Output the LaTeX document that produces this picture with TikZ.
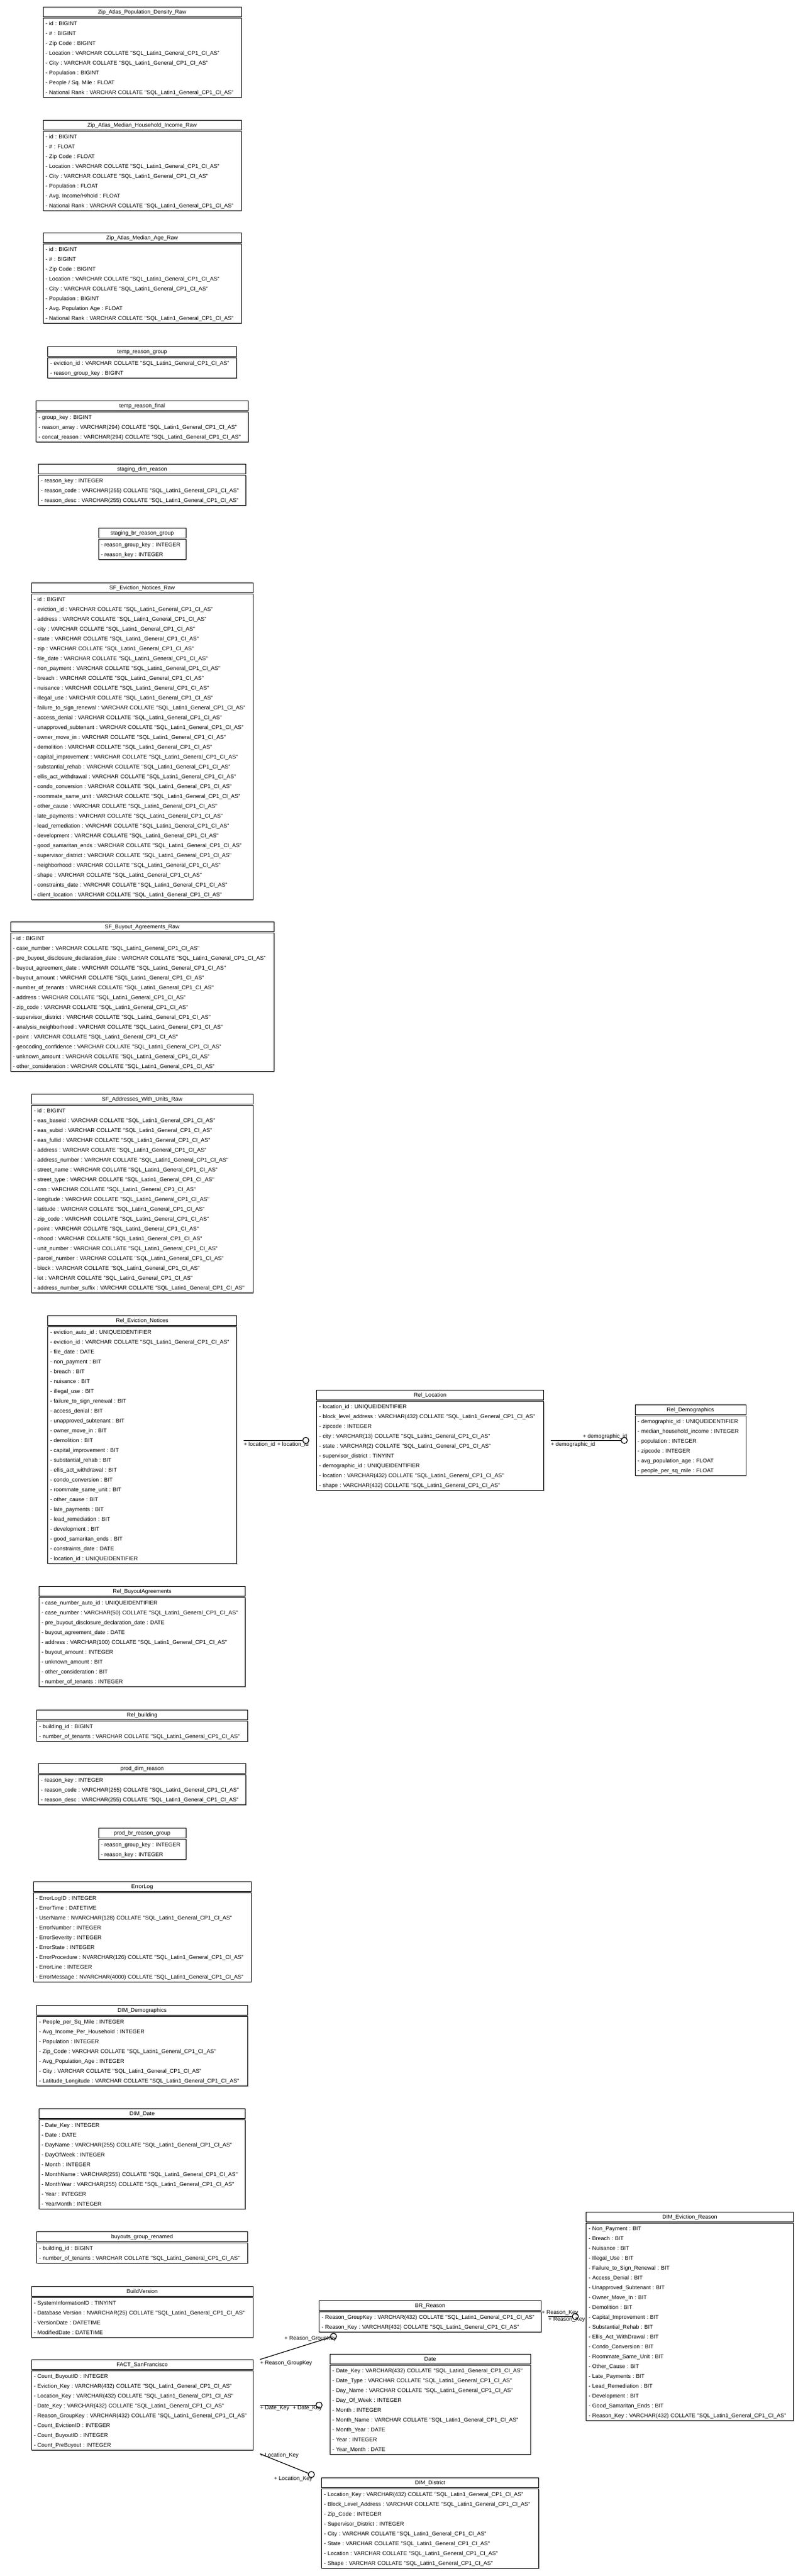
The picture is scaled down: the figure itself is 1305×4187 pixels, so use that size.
\documentclass[tikz,border=0pt]{standalone}
\usepackage{fontspec}
\newfontfamily\erfont{Liberation Sans}
\usepackage{tikz}
\usetikzlibrary{positioning,calc,shadows}
\newcommand{\tabfont}{\erfont\fontsize{4.5pt}{8pt}\selectfont\frenchspacing}
\newcommand{\sqlcoll}{COLLATE "SQL\_Latin1\_General\_CP1\_CI\_AS"}

\begin{document}
\begin{tikzpicture}[x=0.5pt,y=-0.5pt]
  % Define styles
  \tikzstyle{tabhead} = [draw, line width=0.5pt, fill=white, inner sep=0pt, minimum height=8pt, anchor=north, font=\tabfont, execute at begin node=\strut]
  \tikzstyle{tabbody} = [draw, line width=0.5pt, fill=white, inner xsep=2pt, inner ysep=0.25pt, align=left, font=\tabfont, drop shadow={shadow xshift=0.5pt, shadow yshift=-0.5pt, opacity=0.5, fill=gray}, execute at begin node={\strut\rightskip=0pt plus 1fil minus 20pt}, execute at end node=\strut]
  \tikzstyle{rel} = [line width=0.6pt]
  \tikzstyle{optend} = [circle, draw, line width=0.6pt, fill=white, inner sep=0pt, minimum size=5pt]
  \tikzstyle{rellabel} = [font=\tabfont, inner sep=0pt]

  \useasboundingbox (0,0) rectangle (1305,4187);
  \fill[white] (0,0) rectangle (1305,4187);

  % Raw tables
  \node[tabhead, minimum width=161pt] (zpd-h) at (231,11) {Zip\_Atlas\_Population\_Density\_Raw};
  \node[tabbody, text width=157pt, below=0.7pt of zpd-h] (zpd) {- id : BIGINT\\- \# : BIGINT\\- Zip Code : BIGINT\\- Location : VARCHAR \sqlcoll\\- City : VARCHAR \sqlcoll\\- Population : BIGINT\\- People / Sq. Mile : FLOAT\\- National Rank : VARCHAR \sqlcoll};

  \node[tabhead, minimum width=161pt] (zmhi-h) at (231,195) {Zip\_Atlas\_Median\_Household\_Income\_Raw};
  \node[tabbody, text width=157pt, below=0.7pt of zmhi-h] (zmhi) {- id : BIGINT\\- \# : FLOAT\\- Zip Code : FLOAT\\- Location : VARCHAR \sqlcoll\\- City : VARCHAR \sqlcoll\\- Population : FLOAT\\- Avg. Income/H/hold : FLOAT\\- National Rank : VARCHAR \sqlcoll};

  \node[tabhead, minimum width=161pt] (zma-h) at (231,378) {Zip\_Atlas\_Median\_Age\_Raw};
  \node[tabbody, text width=157pt, below=0.7pt of zma-h] (zma) {- id : BIGINT\\- \# : BIGINT\\- Zip Code : BIGINT\\- Location : VARCHAR \sqlcoll\\- City : VARCHAR \sqlcoll\\- Population : BIGINT\\- Avg. Population Age : FLOAT\\- National Rank : VARCHAR \sqlcoll};

  \node[tabhead, minimum width=153.5pt] (trg-h) at (231,563) {temp\_reason\_group};
  \node[tabbody, text width=149.5pt, below=0.7pt of trg-h] (trg) {- eviction\_id : VARCHAR \sqlcoll\\- reason\_group\_key : BIGINT};

  \node[tabhead, minimum width=172.5pt] (trf-h) at (231,651) {temp\_reason\_final};
  \node[tabbody, text width=168.5pt, below=0.7pt of trf-h] (trf) {- group\_key : BIGINT\\- reason\_array : VARCHAR(294) \sqlcoll\\- concat\_reason : VARCHAR(294) \sqlcoll};

  \node[tabhead, minimum width=168.5pt] (sdr-h) at (231,754) {staging\_dim\_reason};
  \node[tabbody, text width=164.5pt, below=0.7pt of sdr-h] (sdr) {- reason\_key : INTEGER\\- reason\_code : VARCHAR(255) \sqlcoll\\- reason\_desc : VARCHAR(255) \sqlcoll};

  \node[tabhead, minimum width=71pt] (sbrg-h) at (231,858) {staging\_br\_reason\_group};
  \node[tabbody, text width=67pt, below=0.7pt of sbrg-h] (sbrg) {- reason\_group\_key : INTEGER\\- reason\_key : INTEGER};

  \node[tabhead, minimum width=180pt] (sfen-h) at (231,947) {SF\_Eviction\_Notices\_Raw};
  \node[tabbody, text width=176pt, below=0.7pt of sfen-h] (sfen) {- id : BIGINT\\- eviction\_id : VARCHAR \sqlcoll\\- address : VARCHAR \sqlcoll\\- city : VARCHAR \sqlcoll\\- state : VARCHAR \sqlcoll\\- zip : VARCHAR \sqlcoll\\- file\_date : VARCHAR \sqlcoll\\- non\_payment : VARCHAR \sqlcoll\\- breach : VARCHAR \sqlcoll\\- nuisance : VARCHAR \sqlcoll\\- illegal\_use : VARCHAR \sqlcoll\\- failure\_to\_sign\_renewal : VARCHAR \sqlcoll\\- access\_denial : VARCHAR \sqlcoll\\- unapproved\_subtenant : VARCHAR \sqlcoll\\- owner\_move\_in : VARCHAR \sqlcoll\\- demolition : VARCHAR \sqlcoll\\- capital\_improvement : VARCHAR \sqlcoll\\- substantial\_rehab : VARCHAR \sqlcoll\\- ellis\_act\_withdrawal : VARCHAR \sqlcoll\\- condo\_conversion : VARCHAR \sqlcoll\\- roommate\_same\_unit : VARCHAR \sqlcoll\\- other\_cause : VARCHAR \sqlcoll\\- late\_payments : VARCHAR \sqlcoll\\- lead\_remediation : VARCHAR \sqlcoll\\- development : VARCHAR \sqlcoll\\- good\_samaritan\_ends : VARCHAR \sqlcoll\\- supervisor\_district : VARCHAR \sqlcoll\\- neighborhood : VARCHAR \sqlcoll\\- shape : VARCHAR \sqlcoll\\- constraints\_date : VARCHAR \sqlcoll\\- client\_location : VARCHAR \sqlcoll};

  \node[tabhead, minimum width=214pt] (sfba-h) at (231,1498) {SF\_Buyout\_Agreements\_Raw};
  \node[tabbody, text width=210pt, below=0.7pt of sfba-h] (sfba) {- id : BIGINT\\- case\_number : VARCHAR \sqlcoll\\- pre\_buyout\_disclosure\_declaration\_date : VARCHAR \sqlcoll\\- buyout\_agreement\_date : VARCHAR \sqlcoll\\- buyout\_amount : VARCHAR \sqlcoll\\- number\_of\_tenants : VARCHAR \sqlcoll\\- address : VARCHAR \sqlcoll\\- zip\_code : VARCHAR \sqlcoll\\- supervisor\_district : VARCHAR \sqlcoll\\- analysis\_neighborhood : VARCHAR \sqlcoll\\- point : VARCHAR \sqlcoll\\- geocoding\_confidence : VARCHAR \sqlcoll\\- unknown\_amount : VARCHAR \sqlcoll\\- other\_consideration : VARCHAR \sqlcoll};

  \node[tabhead, minimum width=180pt] (sfau-h) at (231,1778) {SF\_Addresses\_With\_Units\_Raw};
  \node[tabbody, text width=176pt, below=0.7pt of sfau-h] (sfau) {- id : BIGINT\\- eas\_baseid : VARCHAR \sqlcoll\\- eas\_subid : VARCHAR \sqlcoll\\- eas\_fullid : VARCHAR \sqlcoll\\- address : VARCHAR \sqlcoll\\- address\_number : VARCHAR \sqlcoll\\- street\_name : VARCHAR \sqlcoll\\- street\_type : VARCHAR \sqlcoll\\- cnn : VARCHAR \sqlcoll\\- longitude : VARCHAR \sqlcoll\\- latitude : VARCHAR \sqlcoll\\- zip\_code : VARCHAR \sqlcoll\\- point : VARCHAR \sqlcoll\\- nhood : VARCHAR \sqlcoll\\- unit\_number : VARCHAR \sqlcoll\\- parcel\_number : VARCHAR \sqlcoll\\- block : VARCHAR \sqlcoll\\- lot : VARCHAR \sqlcoll\\- address\_number\_suffix : VARCHAR \sqlcoll};

  % Rel tables
  \node[tabhead, minimum width=153.5pt] (ren-h) at (231,2138) {Rel\_Eviction\_Notices};
  \node[tabbody, text width=149.5pt, below=0.7pt of ren-h] (ren) {- eviction\_auto\_id : UNIQUEIDENTIFIER\\- eviction\_id : VARCHAR \sqlcoll\\- file\_date : DATE\\- non\_payment : BIT\\- breach : BIT\\- nuisance : BIT\\- illegal\_use : BIT\\- failure\_to\_sign\_renewal : BIT\\- access\_denial : BIT\\- unapproved\_subtenant : BIT\\- owner\_move\_in : BIT\\- demolition : BIT\\- capital\_improvement : BIT\\- substantial\_rehab : BIT\\- ellis\_act\_withdrawal : BIT\\- condo\_conversion : BIT\\- roommate\_same\_unit : BIT\\- other\_cause : BIT\\- late\_payments : BIT\\- lead\_remediation : BIT\\- development : BIT\\- good\_samaritan\_ends : BIT\\- constraints\_date : DATE\\- location\_id : UNIQUEIDENTIFIER};

  \node[tabhead, minimum width=184.5pt] (rloc-h) at (699,2259) {Rel\_Location};
  \node[tabbody, text width=180.5pt, below=0.7pt of rloc-h] (rloc) {- location\_id : UNIQUEIDENTIFIER\\- block\_level\_address : VARCHAR(432) \sqlcoll\\- zipcode : INTEGER\\- city : VARCHAR(13) \sqlcoll\\- state : VARCHAR(2) \sqlcoll\\- supervisor\_district : TINYINT\\- demographic\_id : UNIQUEIDENTIFIER\\- location : VARCHAR(432) \sqlcoll\\- shape : VARCHAR(432) \sqlcoll};

  \node[tabhead, minimum width=90pt] (rdem-h) at (1122,2283) {Rel\_Demographics};
  \node[tabbody, text width=86pt, below=0.7pt of rdem-h] (rdem) {- demographic\_id : UNIQUEIDENTIFIER\\- median\_household\_income : INTEGER\\- population : INTEGER\\- zipcode : INTEGER\\- avg\_population\_age : FLOAT\\- people\_per\_sq\_mile : FLOAT};

  \node[tabhead, minimum width=167.5pt] (rba-h) at (231,2578) {Rel\_BuyoutAgreements};
  \node[tabbody, text width=163.5pt, below=0.7pt of rba-h] (rba) {- case\_number\_auto\_id : UNIQUEIDENTIFIER\\- case\_number : VARCHAR(50) \sqlcoll\\- pre\_buyout\_disclosure\_declaration\_date : DATE\\- buyout\_agreement\_date : DATE\\- address : VARCHAR(100) \sqlcoll\\- buyout\_amount : INTEGER\\- unknown\_amount : BIT\\- other\_consideration : BIT\\- number\_of\_tenants : INTEGER};

  \node[tabhead, minimum width=171.5pt] (rbld-h) at (231,2779) {Rel\_building};
  \node[tabbody, text width=167.5pt, below=0.7pt of rbld-h] (rbld) {- building\_id : BIGINT\\- number\_of\_tenants : VARCHAR \sqlcoll};

  % Prod and log tables
  \node[tabhead, minimum width=168.5pt] (pdr-h) at (231,2866) {prod\_dim\_reason};
  \node[tabbody, text width=164.5pt, below=0.7pt of pdr-h] (pdr) {- reason\_key : INTEGER\\- reason\_code : VARCHAR(255) \sqlcoll\\- reason\_desc : VARCHAR(255) \sqlcoll};

  \node[tabhead, minimum width=71pt] (pbrg-h) at (231,2971) {prod\_br\_reason\_group};
  \node[tabbody, text width=67pt, below=0.7pt of pbrg-h] (pbrg) {- reason\_group\_key : INTEGER\\- reason\_key : INTEGER};

  \node[tabhead, minimum width=177pt] (errlog-h) at (231,3058) {ErrorLog};
  \node[tabbody, text width=173pt, below=0.7pt of errlog-h] (errlog) {- ErrorLogID : INTEGER\\- ErrorTime : DATETIME\\- UserName : NVARCHAR(128) \sqlcoll\\- ErrorNumber : INTEGER\\- ErrorSeverity : INTEGER\\- ErrorState : INTEGER\\- ErrorProcedure : NVARCHAR(126) \sqlcoll\\- ErrorLine : INTEGER\\- ErrorMessage : NVARCHAR(4000) \sqlcoll};

  % Warehouse tables
  \node[tabhead, minimum width=171.5pt] (ddem-h) at (231,3259) {DIM\_Demographics};
  \node[tabbody, text width=167.5pt, below=0.7pt of ddem-h] (ddem) {- People\_per\_Sq\_Mile : INTEGER\\- Avg\_Income\_Per\_Household : INTEGER\\- Population : INTEGER\\- Zip\_Code : VARCHAR \sqlcoll\\- Avg\_Population\_Age : INTEGER\\- City : VARCHAR \sqlcoll\\- Latitude\_Longitude : VARCHAR \sqlcoll};

  \node[tabhead, minimum width=167.5pt] (ddate-h) at (231,3427) {DIM\_Date};
  \node[tabbody, text width=163.5pt, below=0.7pt of ddate-h] (ddate) {- Date\_Key : INTEGER\\- Date : DATE\\- DayName : VARCHAR(255) \sqlcoll\\- DayOfWeek : INTEGER\\- Month : INTEGER\\- MonthName : VARCHAR(255) \sqlcoll\\- MonthYear : VARCHAR(255) \sqlcoll\\- Year : INTEGER\\- YearMonth : INTEGER};

  \node[tabhead, minimum width=171.5pt] (bgr-h) at (231,3627) {buyouts\_group\_renamed};
  \node[tabbody, text width=167.5pt, below=0.7pt of bgr-h] (bgr) {- building\_id : BIGINT\\- number\_of\_tenants : VARCHAR \sqlcoll};

  \node[tabhead, minimum width=180pt] (bver-h) at (231,3716) {BuildVersion};
  \node[tabbody, text width=176pt, below=0.7pt of bver-h] (bver) {- SystemInformationID : TINYINT\\- Database Version : NVARCHAR(25) \sqlcoll\\- VersionDate : DATETIME\\- ModifiedDate : DATETIME};

  \node[tabhead, minimum width=180pt] (fact-h) at (231,3835) {FACT\_SanFrancisco};
  \node[tabbody, text width=176pt, below=0.7pt of fact-h] (fact) {- Count\_BuyoutID : INTEGER\\- Eviction\_Key : VARCHAR(432) \sqlcoll\\- Location\_Key : VARCHAR(432) \sqlcoll\\- Date\_Key : VARCHAR(432) \sqlcoll\\- Reason\_GroupKey : VARCHAR(432) \sqlcoll\\- Count\_EvictionID : INTEGER\\- Count\_BuyoutID : INTEGER\\- Count\_PreBuyout : INTEGER};

  \node[tabhead, minimum width=180.5pt] (brr-h) at (699,3739) {BR\_Reason};
  \node[tabbody, text width=176.5pt, below=0.7pt of brr-h] (brr) {- Reason\_GroupKey : VARCHAR(432) \sqlcoll\\- Reason\_Key : VARCHAR(432) \sqlcoll};

  \node[tabhead, minimum width=163pt] (date-h) at (699,3826) {Date};
  \node[tabbody, text width=159pt, below=0.7pt of date-h] (date) {- Date\_Key : VARCHAR(432) \sqlcoll\\- Date\_Type : VARCHAR \sqlcoll\\- Day\_Name : VARCHAR \sqlcoll\\- Day\_Of\_Week : INTEGER\\- Month : INTEGER\\- Month\_Name : VARCHAR \sqlcoll\\- Month\_Year : DATE\\- Year : INTEGER\\- Year\_Month : DATE};

  \node[tabhead, minimum width=176.5pt] (ddist-h) at (699,4027) {DIM\_District};
  \node[tabbody, text width=172.5pt, below=0.7pt of ddist-h] (ddist) {- Location\_Key : VARCHAR(432) \sqlcoll\\- Block\_Level\_Address : VARCHAR \sqlcoll\\- Zip\_Code : INTEGER\\- Supervisor\_District : INTEGER\\- City : VARCHAR \sqlcoll\\- State : VARCHAR \sqlcoll\\- Location : VARCHAR \sqlcoll\\- Shape : VARCHAR \sqlcoll};

  \node[tabhead, minimum width=168.5pt] (der-h) at (1121,3595) {DIM\_Eviction\_Reason};
  \node[tabbody, text width=164.5pt, below=0.7pt of der-h] (der) {- Non\_Payment : BIT\\- Breach : BIT\\- Nuisance : BIT\\- Illegal\_Use : BIT\\- Failure\_to\_Sign\_Renewal : BIT\\- Access\_Denial : BIT\\- Unapproved\_Subtenant : BIT\\- Owner\_Move\_In : BIT\\- Demolition : BIT\\- Capital\_Improvement : BIT\\- Substantial\_Rehab : BIT\\- Ellis\_Act\_WithDrawal : BIT\\- Condo\_Conversion : BIT\\- Roommate\_Same\_Unit : BIT\\- Other\_Cause : BIT\\- Late\_Payments : BIT\\- Lead\_Remediation : BIT\\- Development : BIT\\- Good\_Samaritan\_Ends : BIT\\- Reason\_Key : VARCHAR(432) \sqlcoll};

  % Table centres
  \coordinate (rloc-c) at ($(rloc-h.north)!0.5!(rloc.south)$);
  \coordinate (brr-c) at ($(brr-h.north)!0.5!(brr.south)$);
  \coordinate (fact-c) at ($(fact-h.north)!0.5!(fact.south)$);

  % Relationships
  \coordinate (r1) at ($(ren.east |- rloc-c)+(11,0)$);
  \node[optend] (o1) at ($(rloc.west |- rloc-c)+(-17,0)$) {};
  \draw[rel] (r1) -- (o1);
  \node[rellabel, anchor=west] at ($(r1)+(0,7)$) {+ location\_id};
  \node[rellabel, anchor=east] at ($(o1)+(5,7)$) {+ location\_id};

  \coordinate (r2) at ($(rloc.east |- rloc-c)+(11,0)$);
  \node[optend] (o2) at ($(rdem.west |- rloc-c)+(-17,0)$) {};
  \draw[rel] (r2) -- (o2);
  \node[rellabel, anchor=west] at ($(r2)+(0,7)$) {+ demographic\_id};
  \node[rellabel, anchor=east] at ($(o2)+(5,-6)$) {+ demographic\_id};

  \coordinate (r3) at ($(fact-h.north east)+(11,0)$);
  \node[optend] (o3) at ($(brr.south west)+(24,6)$) {};
  \draw[rel] (r3) -- (o3);
  \node[rellabel, anchor=west] at ($(r3)+(0,6)$) {+ Reason\_GroupKey};
  \node[rellabel, anchor=east] at ($(o3)+(5,4)$) {+ Reason\_GroupKey};

  \coordinate (r4) at ($(fact.east |- fact-c)+(11,0)$);
  \node[optend] (o4) at ($(date.west |- fact-c)+(-17,0)$) {};
  \draw[rel] (r4) -- (o4);
  \node[rellabel, anchor=west] at ($(r4)+(0,5)$) {+ Date\_Key};
  \node[rellabel, anchor=east] at ($(o4)+(5,5)$) {+ Date\_Key};

  \coordinate (r5) at ($(fact.south east)+(11,5)$);
  \node[optend] (o5) at ($(ddist-h.north west)+(-16,-5)$) {};
  \draw[rel] (r5) -- (o5);
  \node[rellabel, anchor=west] at ($(r5)+(0,3)$) {+ Location\_Key};
  \node[rellabel, anchor=east] at ($(o5)+(2,7)$) {+ Location\_Key};

  \coordinate (r6) at ($(brr.east |- brr-c)+(11,0)$);
  \node[optend] (o6) at ($(der.west |- brr-c)+(-17,0)$) {};
  \draw[rel] (r6) -- (o6);
  \node[rellabel, anchor=east] at ($(o6)+(5,-6)$) {+ Reason\_Key};
  \node[rellabel, anchor=west] at ($(r6)+(0,5)$) {+ Reason\_Key};
\end{tikzpicture}
\end{document}
